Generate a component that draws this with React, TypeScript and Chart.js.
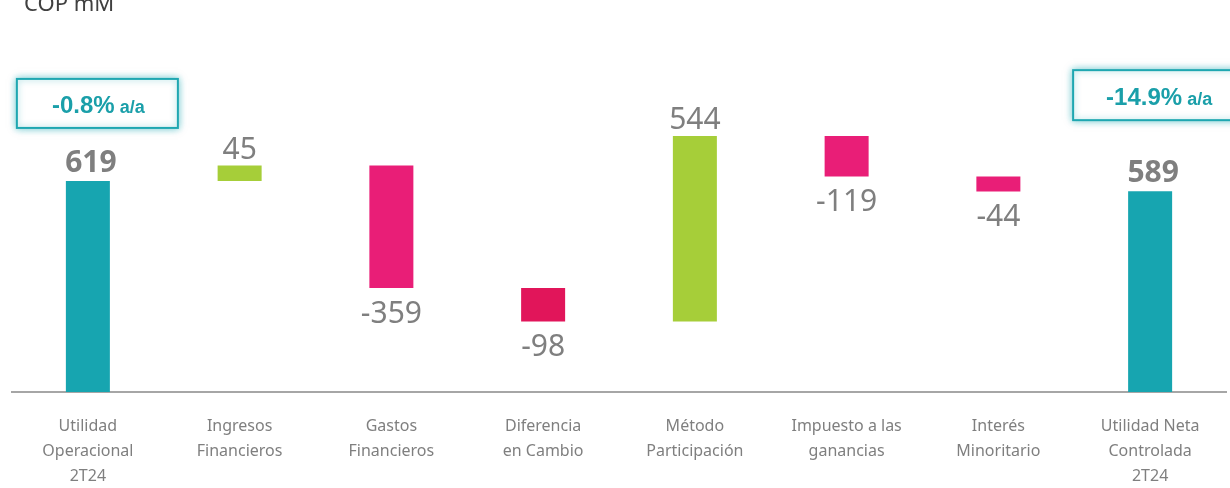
import React, { useEffect, useRef } from "react";
import { Chart, registerables } from "chart.js";

Chart.register(...registerables);

const categories: string[][] = [
  ["Utilidad", "Operacional", "2T24"],
  ["Ingresos", "Financieros"],
  ["Gastos", "Financieros"],
  ["Diferencia", "en Cambio"],
  ["Método", "Participación"],
  ["Impuesto a las", "ganancias"],
  ["Interés", "Minoritario"],
  ["Utilidad Neta", "Controlada", "2T24"],
];
const barStart: number[] = [0, 619, 664, 305, 207, 751, 632, 0];
const barEnd: number[] = [619, 664, 305, 207, 751, 632, 588, 589];
const valueLabels: string[] = ["619", "45", "-359", "-98", "544", "-119", "-44", "589"];
const isTotal: boolean[] = [true, false, false, false, false, false, false, true];
const barColors: string[] = ["#17A5B0", "#A6CE39", "#E91E77", "#E1155A", "#A6CE39", "#E91E77", "#E91E77", "#17A5B0"];
const growthMain: string[] = ["-0.8%", "-14.9%"];
const growthUnit = "a/a";
const unitTitle = "COP mM";

const FONT = "'Noto Sans', 'Open Sans', sans-serif";
const BOX_FONT = "'Liberation Sans', Arial, sans-serif";

const overlayPlugin = {
  id: "overlay",
  afterDatasetsDraw(chart: any) {
    const ctx = chart.ctx;
    const meta = chart.getDatasetMeta(0);
    ctx.save();
    // value labels
    meta.data.forEach((bar: any, i: number) => {
      const top = Math.min(bar.y, bar.base);
      const bottom = Math.max(bar.y, bar.base);
      const negative = barEnd[i] < barStart[i];
      ctx.fillStyle = "#7F7F7F";
      ctx.textAlign = "center";
      ctx.textBaseline = "alphabetic";
      if (isTotal[i]) {
        ctx.font = `bold 30px ${FONT}`;
        ctx.fillText(valueLabels[i], bar.x + 3, top - 9);
      } else if (negative) {
        ctx.font = `30px ${FONT}`;
        ctx.fillText(valueLabels[i], bar.x, bottom + 35);
      } else {
        ctx.font = `30px ${FONT}`;
        ctx.fillText(valueLabels[i], bar.x, top - 7);
      }
    });
    // growth boxes
    const boxes = [
      { idx: 0, dx: -71, w: 161, dy: -102, h: 49 },
      { idx: 7, dx: -77, w: 170, dy: -121, h: 50 },
    ];
    boxes.forEach((b, k) => {
      const bar: any = meta.data[b.idx];
      const top = Math.min(bar.y, bar.base);
      const x = bar.x + b.dx;
      const y = top + b.dy;
      ctx.save();
      ctx.shadowColor = "rgba(23,165,176,0.55)";
      ctx.shadowBlur = 8;
      ctx.fillStyle = "#FFFFFF";
      ctx.fillRect(x, y, b.w, b.h);
      ctx.restore();
      ctx.save();
      ctx.shadowColor = "rgba(23,165,176,0.5)";
      ctx.shadowBlur = 6;
      ctx.strokeStyle = "#1FA7B1";
      ctx.lineWidth = 2;
      ctx.strokeRect(x, y, b.w, b.h);
      ctx.restore();
      ctx.fillStyle = "#1A9FA9";
      ctx.textBaseline = "alphabetic";
      ctx.textAlign = "left";
      ctx.font = `bold 24px ${BOX_FONT}`;
      const mainW = ctx.measureText(growthMain[k]).width;
      ctx.font = `bold 18px ${BOX_FONT}`;
      const unitW = ctx.measureText(" " + growthUnit).width;
      const cx = x + b.w / 2 + 1;
      const sx = cx - (mainW + unitW) / 2;
      const by = y + b.h / 2 + 10;
      ctx.font = `bold 24px ${BOX_FONT}`;
      ctx.fillText(growthMain[k], sx, by);
      ctx.font = `bold 18px ${BOX_FONT}`;
      ctx.fillText(" " + growthUnit, sx + mainW, by);
    });
    // unit title
    ctx.fillStyle = "#404040";
    ctx.textAlign = "left";
    ctx.textBaseline = "alphabetic";
    ctx.font = `22px ${FONT}`;
    ctx.fillText(unitTitle, 24, 11);
    ctx.restore();
  },
};

export default function App() {
  const canvasRef = useRef<HTMLCanvasElement | null>(null);

  useEffect(() => {
    document.body.style.margin = "0";
    const canvas = canvasRef.current;
    if (!canvas) return;
    const chart = new Chart(canvas, {
      type: "bar",
      data: {
        labels: categories,
        datasets: [
          {
            data: barStart.map((s, i) => [s, barEnd[i]]) as any,
            backgroundColor: barColors,
            borderWidth: 0,
            categoryPercentage: 1,
            barPercentage: 0.29,
          },
        ],
      },
      options: {
        animation: false,
        responsive: false,
        maintainAspectRatio: false,
        layout: { padding: { top: 51, left: 12, right: 4, bottom: 0 } },
        plugins: {
          legend: { display: false },
          tooltip: { enabled: false },
        },
        scales: {
          x: {
            grid: { display: false, drawTicks: false },
            border: { display: true, color: "#A6A6A6", width: 2 },
            ticks: {
              color: "#7F7F7F",
              font: { family: FONT, size: 16, lineHeight: 1.56 },
              padding: 22,
              maxRotation: 0,
              autoSkip: false,
            },
            afterFit: (scale: any) => {
              scale.height = 96;
            },
          },
          y: {
            display: false,
            min: 0,
            max: 1000,
          },
        },
      },
      plugins: [overlayPlugin],
    });
    return () => chart.destroy();
  }, []);

  return (
    <div style={{ width: 1230, height: 488, background: "#FFFFFF" }}>
      <canvas ref={canvasRef} width={1230} height={488} style={{ display: "block" }} />
    </div>
  );
}
